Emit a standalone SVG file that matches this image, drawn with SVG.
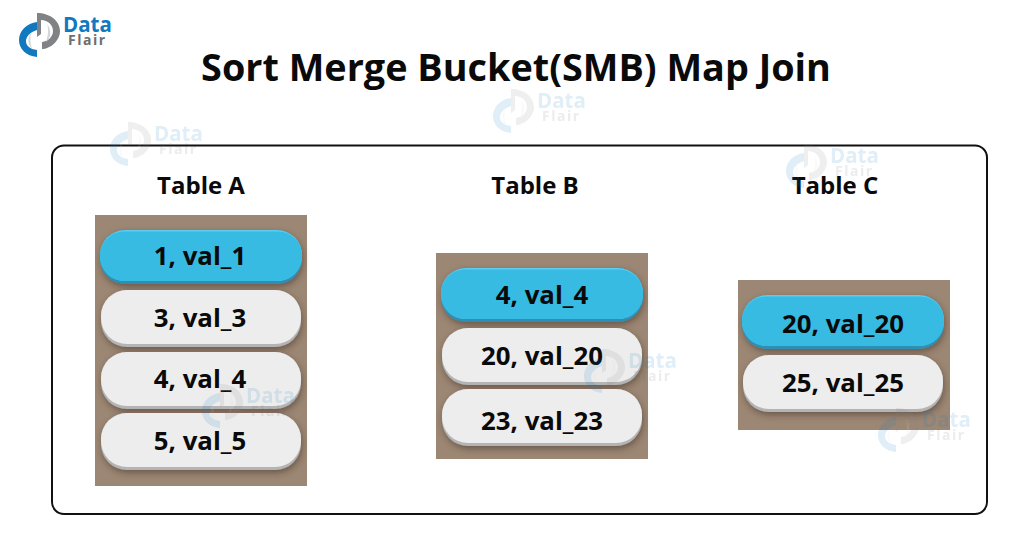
<svg xmlns="http://www.w3.org/2000/svg" width="1024" height="536" viewBox="0 0 1024 536">
<style>
text{font-family:"Open Sans","Noto Sans","Liberation Sans",sans-serif;font-weight:700;fill:#0a0a0a;text-anchor:middle}
.title{font-size:37.800px}
.head{font-size:24px}
.val{font-size:25.800px}
.panel{fill:#9c8774}
.blue{fill:#38bbe3}
.blue-top{fill:#5ccdf0}
.blue-edge{fill:#2f8fb3}
.gray{fill:#ededed}
.gray-edge{fill:#b4b4b4}
.ld{font-size:20.500px;fill:#1279bf;text-anchor:start}
.lf{font-size:14px;fill:#6d6e70;text-anchor:start;letter-spacing:1.500px}
.wm{opacity:.13}
</style>
<defs>
<filter id="sh" x="-5%" y="-15%" width="110%" height="140%"><feDropShadow dx="1" dy="3" stdDeviation="3" flood-color="#3a2c20" flood-opacity=".5"/></filter>
<g id="logo">
<path d="M37 22V30C30 32 26 37 26 41C26 46 30 49 37 50V57C26 56 19 49 19 40C19 31 27 23 37 22Z" fill="#1279bf"/>
<path d="M37 13C50 13 60 21 60 31C60 41 50 49 42 49V42C48 41 53 37 53 31C53 25 48 20 41 20V34L37 37Z" fill="#808285"/>
<path d="M47 24C52 30 51 38 46 42C48 35 49 30 47 24Z" fill="#d5d6d7"/>
<path d="M31 33C27 38 28 45 32 49C30 43 30 38 31 33Z" fill="#d5d6d7"/>
<text class="ld" x="63" y="32">Data</text>
<text class="lf" x="68" y="45">Flair</text>
</g>
<g id="pill-blue" filter="url(#sh)"><rect class="blue-edge" x="0" y="0" width="202" height="54" rx="25"/><rect class="blue-top" x="0" y="0" width="202" height="51" rx="25"/><rect class="blue" x="0" y="1.500" width="202" height="49.500" rx="24"/></g>
<g id="pill-gray" filter="url(#sh)"><rect class="gray-edge" x="0" y="0" width="200" height="57" rx="26"/><rect class="gray" x="0" y="0" width="200" height="54" rx="26"/></g>
</defs>
<rect width="1024" height="536" fill="#fff"/>
<g id="brand-logo"><use href="#logo"/></g>
<g id="title"><text class="title" x="516" y="81">Sort Merge Bucket(SMB) Map Join</text></g>
<g id="frame"><rect x="52" y="145.500" width="935" height="368.500" rx="12" fill="none" stroke="#111" stroke-width="2"/></g>
<g id="table-a">
<text class="head" x="201" y="194">Table A</text>
<rect class="panel" x="95" y="215" width="212" height="271"/>
<use href="#pill-blue" x="100" y="230"/><text class="val" x="200" y="265">1, val_1</text>
<use href="#pill-gray" x="101" y="290"/><text class="val" x="200" y="327">3, val_3</text>
<use href="#pill-gray" x="101" y="352"/><text class="val" x="200" y="388">4, val_4</text>
<use href="#pill-gray" x="101" y="413"/><text class="val" x="200" y="450">5, val_5</text>
</g>
<g id="table-b">
<text class="head" x="535" y="194">Table B</text>
<rect class="panel" x="436" y="253" width="212" height="206"/>
<use href="#pill-blue" x="441" y="268"/><text class="val" x="542" y="304">4, val_4</text>
<use href="#pill-gray" x="442" y="328"/><text class="val" x="542" y="365">20, val_20</text>
<use href="#pill-gray" x="442" y="389"/><text class="val" x="542" y="430">23, val_23</text>
</g>
<g id="table-c">
<text class="head" x="835" y="194">Table C</text>
<rect class="panel" x="738" y="280" width="212" height="150"/>
<use href="#pill-blue" x="742" y="295"/><text class="val" x="843" y="333">20, val_20</text>
<use href="#pill-gray" x="743" y="355"/><text class="val" x="843" y="392">25, val_25</text>
</g>
<g id="connectors"/>
<g id="watermarks" class="wm">
<use href="#logo" x="91" y="109"/>
<use href="#logo" x="474" y="76"/>
<use href="#logo" x="767" y="131"/>
<use href="#logo" x="565" y="336"/>
<use href="#logo" x="183" y="371"/>
<use href="#logo" x="859" y="395"/>
</g>
</svg>
